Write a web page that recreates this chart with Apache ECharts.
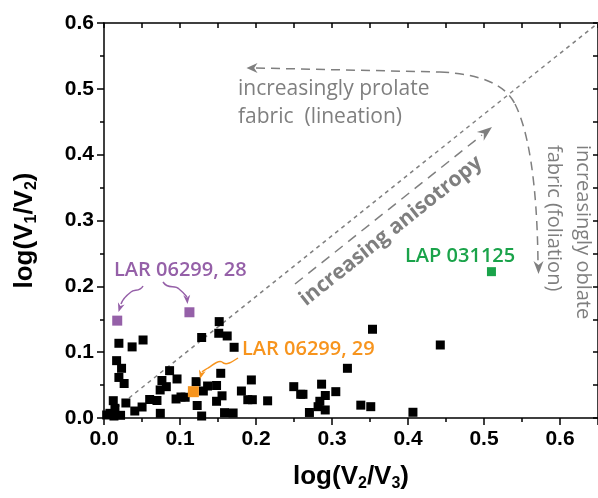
<!DOCTYPE html>
<html>
<head>
<meta charset="utf-8">
<script src="https://cdn.jsdelivr.net/npm/echarts@6/dist/echarts.min.js"></script>
<style>
  html, body { margin: 0; padding: 0; background: #fff; }
  #main { width: 598px; height: 498px; }
</style>
</head>
<body>
<div id="main"></div>
<script>
// log(V2/V3) vs log(V1/V2) for the meteorite samples
const xTicks = [0, 0.1, 0.2, 0.3, 0.4, 0.5, 0.6];
const yTicks = [0, 0.1, 0.2, 0.3, 0.4, 0.5, 0.6];

const otherX = [0.0196, 0.037, 0.0514, 0.1285, 0.0166, 0.0231, 0.0196, 0.0265, 0.0863, 0.0961,
  0.0762, 0.082, 0.0739, 0.1212, 0.1363, 0.1307, 0.0122, 0.0288, 0.0144, 0.0078,
  0.0218, 0.0405, 0.0501, 0.0601, 0.0697, 0.0741, 0.0948, 0.1013, 0.1068, 0.1226,
  0.1285, 0.1516, 0.151, 0.1621, 0.1712, 0.1536, 0.1481, 0.1939, 0.1808, 0.1553,
  0.1481, 0.1892, 0.1952, 0.2153, 0.1586, 0.1699, 0.2497, 0.2588, 0.2618, 0.2703,
  0.2863, 0.2912, 0.305, 0.284, 0.2817, 0.2911, 0.3533, 0.4425, 0.3203, 0.3379,
  0.351, 0.4065, 0.0035, 0.0131];
const otherY = [0.1135, 0.108, 0.1185, 0.1223, 0.0871, 0.0755, 0.0616, 0.0524, 0.0719, 0.0593,
  0.057, 0.0476, 0.0426, 0.0552, 0.0486, 0.041, 0.0263, 0.0228, 0.0147, 0.0071,
  0.0041, 0.0106, 0.0167, 0.0281, 0.0266, 0.0071, 0.0289, 0.0319, 0.0315, 0.019,
  0.003, 0.1464, 0.1287, 0.1246, 0.1074, 0.0679, 0.0494, 0.0578, 0.041, 0.0337,
  0.0254, 0.0278, 0.0278, 0.0261, 0.0081, 0.0076, 0.0476, 0.036, 0.036, 0.0084,
  0.0514, 0.0342, 0.04, 0.0254, 0.0172, 0.0122, 0.1348, 0.1109, 0.0755, 0.0195,
  0.0172, 0.0087, 0.0046, 0.003];

const lar28X = [0.0174, 0.1124];
const lar28Y = [0.1479, 0.1606];
const lar29X = [0.1176];
const lar29Y = [0.04];
const lap31X = [0.5098];
const lap31Y = [0.2223];

// 1:1 reference line, corner to corner of the frame
const diagX = [0, 0.65];
const diagY = [0, 0.6];

const zip = (xs, ys) => xs.map((x, i) => [x, ys[i]]);

const GRAY = '#7f7f7f';
const PURPLE = '#9560a8';
const ORANGE = '#f7941d';
const GREEN = '#1aa34a';
const ANNO_FONT = 'Open Sans';

// small stealth arrow head
function head(tip, angDeg, len, wid, color) {
  const a = angDeg * Math.PI / 180;
  const ux = Math.cos(a), uy = Math.sin(a);
  const nx = -uy, ny = ux;
  const bx = tip[0] - ux * len, by = tip[1] - uy * len;
  const notch = [tip[0] - ux * len * 0.7, tip[1] - uy * len * 0.7];
  return {
    type: 'polygon',
    shape: { points: [tip, [bx + nx * wid / 2, by + ny * wid / 2], notch, [bx - nx * wid / 2, by - ny * wid / 2]] },
    style: { fill: color },
    z: 100
  };
}

// segs: [x0,y0] then [x,y] for lines or [c1x,c1y,c2x,c2y,x,y] for cubic pieces
function curve(segs, color, dash) {
  const style = { fill: null, stroke: color, lineWidth: 1.5, lineDash: dash || null };
  const children = [];
  let p = segs[0];
  for (let i = 1; i < segs.length; i++) {
    const s = segs[i];
    if (s.length === 2) {
      children.push({ type: 'line', shape: { x1: p[0], y1: p[1], x2: s[0], y2: s[1] }, style: style });
      p = s;
    } else {
      children.push({ type: 'bezierCurve', shape: { x1: p[0], y1: p[1], cpx1: s[0], cpy1: s[1], cpx2: s[2], cpy2: s[3], x2: s[4], y2: s[5] }, style: style });
      p = [s[4], s[5]];
    }
  }
  return { type: 'group', children: children, z: 100 };
}

function label(text, x, y, color, size, opts) {
  opts = opts || {};
  return {
    type: 'text',
    x: x, y: y,
    rotation: opts.rotation || 0,
    style: {
      text: text,
      fill: color,
      fontFamily: ANNO_FONT,
      fontSize: size,
      fontWeight: opts.weight || 'normal',
      align: opts.align || 'left',
      verticalAlign: 'middle'
    },
    z: 100
  };
}

const tickLabel = { fontFamily: '"Liberation Sans", Arial, sans-serif', fontWeight: 'bold', fontSize: 21, color: '#000' };
const nameRich = {
  b: { fontFamily: '"Liberation Sans", Arial, sans-serif', fontWeight: 'bold', fontSize: 26, color: '#000' },
  s: { fontFamily: '"Liberation Sans", Arial, sans-serif', fontWeight: 'bold', fontSize: 16, color: '#000', verticalAlign: 'bottom', padding: [14, 0, 0, 0] }
};
const axisLine = { show: true, onZero: false, lineStyle: { color: '#000', width: 1.5 } };

const chart = echarts.init(document.getElementById('main'));
chart.setOption({
  animation: false,
  backgroundColor: '#fff',
  grid: { left: 104, top: 23, right: -3, bottom: 80 },
  xAxis: [{
    type: 'value', min: 0, max: 0.65, interval: 0.1,
    axisLine: axisLine,
    axisTick: { show: true, length: 7, lineStyle: { color: '#000', width: 1.5 } },
    minorTick: { show: true, splitNumber: 2, length: 4, lineStyle: { color: '#000', width: 1.5 } },
    splitLine: { show: false },
    axisLabel: Object.assign({ margin: 11, showMaxLabel: false,
      formatter: v => xTicks.indexOf(Math.round(v * 10) / 10) >= 0 ? v.toFixed(1) : '' }, tickLabel),
    name: '{b|log(V}{s|2}{b|/V}{s|3}{b|)}',
    nameLocation: 'middle', nameGap: 44,
    nameTextStyle: { rich: nameRich }
  }, {
    type: 'value', min: 0, max: 0.65, interval: 0.1, position: 'top',
    axisLine: axisLine,
    axisTick: { show: true, inside: true, length: 5, lineStyle: { color: '#000', width: 1.5 } },
    minorTick: { show: true, splitNumber: 2, length: 5, lineStyle: { color: '#000', width: 1.5 } },
    splitLine: { show: false },
    axisLabel: { show: false }
  }],
  yAxis: [{
    type: 'value', min: 0, max: 0.6, interval: 0.1,
    axisLine: axisLine,
    axisTick: { show: true, length: 7, lineStyle: { color: '#000', width: 1.5 } },
    minorTick: { show: true, splitNumber: 2, length: 4, lineStyle: { color: '#000', width: 1.5 } },
    splitLine: { show: false },
    axisLabel: Object.assign({ margin: 10,
      formatter: v => yTicks.indexOf(Math.round(v * 10) / 10) >= 0 ? v.toFixed(1) : '' }, tickLabel),
    name: '{b|log(V}{s|1}{b|/V}{s|2}{b|)}',
    nameLocation: 'middle', nameGap: 64,
    nameTextStyle: { rich: nameRich, padding: [0, 20, 0, 0] }
  }, {
    type: 'value', min: 0, max: 0.6, interval: 0.1, position: 'right',
    axisLine: axisLine,
    axisTick: { show: true, inside: true, length: 5, lineStyle: { color: '#000', width: 1.5 } },
    minorTick: { show: true, splitNumber: 2, length: 5, lineStyle: { color: '#000', width: 1.5 } },
    splitLine: { show: false },
    axisLabel: { show: false }
  }],
  series: [{
    type: 'line',
    data: zip(diagX, diagY),
    symbol: 'none',
    lineStyle: { color: GRAY, width: 1.5, type: [4, 4] },
    z: 1
  }, {
    type: 'scatter',
    data: zip(otherX, otherY),
    symbol: 'rect', symbolSize: 9,
    itemStyle: { color: '#000', opacity: 1 },
    z: 3
  }, {
    type: 'scatter',
    data: zip(lar28X, lar28Y),
    symbol: 'rect', symbolSize: 10,
    itemStyle: { color: PURPLE, opacity: 1 },
    z: 4
  }, {
    type: 'scatter',
    data: zip(lar29X, lar29Y),
    symbol: 'rect', symbolSize: 11,
    itemStyle: { color: ORANGE, opacity: 1 },
    z: 4
  }, {
    type: 'scatter',
    data: zip(lap31X, lap31Y),
    symbol: 'rect', symbolSize: 9,
    itemStyle: { color: GREEN, opacity: 1 },
    z: 4
  }],
  graphic: [
    // prolate / oblate dashed guide
    curve([[256, 68], [440, 72], [480, 74, 505, 84, 515, 104], [528, 130, 537, 180, 538, 262]], GRAY, [9, 6]),
    head([246.5, 68], 180, 11, 10, GRAY),
    head([538.5, 274], 90, 13, 10, GRAY),
    label('increasingly prolate', 238, 89, GRAY, 21),
    label('fabric  (lineation)', 238, 117, GRAY, 21),
    label('increasingly oblate', 583, 145, GRAY, 20, { rotation: -Math.PI / 2 }),
    label('fabric (foliation)', 554, 145, GRAY, 20, { rotation: -Math.PI / 2 }),
    // anisotropy arrow
    curve([[295, 284], [482, 135]], GRAY, [10, 7]),
    head([492, 127], -38.6, 15, 11, GRAY),
    label('increasing anisotropy', 391, 231, GRAY, 21, { rotation: 38.6 * Math.PI / 180, align: 'center', weight: 'bold' }),
    // sample labels
    label('LAR 06299, 28', 114, 270, PURPLE, 20, { weight: '600' }),
    curve([[143, 286], [140, 292, 134, 289, 131, 292], [127, 295, 123, 298, 121, 304]], PURPLE),
    head([118.5, 312], 108, 9, 7, PURPLE),
    curve([[163, 282], [168, 290, 175, 284, 179, 289], [184, 293, 186, 296, 187, 297]], PURPLE),
    head([187.5, 304], 85, 9, 7, PURPLE),
    label('LAR 06299, 29', 242, 349, ORANGE, 20, { weight: '600' }),
    curve([[238, 358], [232, 362, 226, 366, 222, 362], [218, 359, 212, 366, 208, 368], [205, 370, 203, 371, 202, 372]], ORANGE),
    head([200, 379], 105, 9, 7, ORANGE),
    label('LAP 031125', 405, 256, GREEN, 20, { weight: '600' })
  ]
});
</script>
</body>
</html>
